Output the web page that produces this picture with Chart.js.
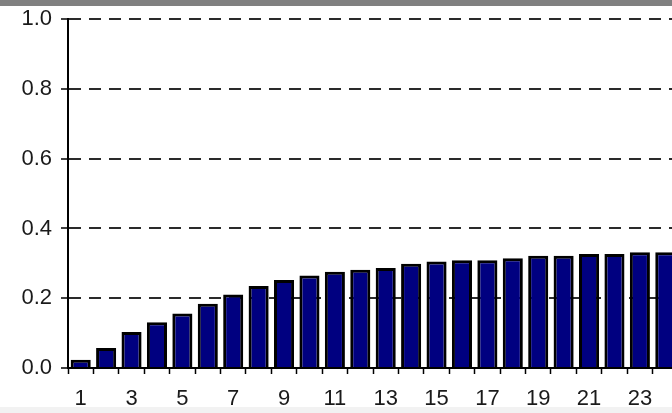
<!DOCTYPE html>
<html><head><meta charset="utf-8">
<script src="https://cdn.jsdelivr.net/npm/chart.js@4"></script>
<style>
html,body{margin:0;padding:0;width:672px;height:413px;overflow:hidden;background:#fff;}
#top{position:absolute;left:0;top:0;width:672px;height:6px;background:#808080;z-index:2;}
#bot{position:absolute;left:0;top:407px;width:672px;height:6px;background:#f2f2f2;z-index:2;}
#wrap{position:absolute;left:0;top:-3px;width:680px;height:410px;z-index:1;}
</style></head><body>
<div id="top"></div>
<div id="wrap"><canvas id="c" width="680" height="410"></canvas></div>
<div id="bot"></div>
<script>
const categories = ['1','2','3','4','5','6','7','8','9','10','11','12','13','14','15','16','17','18','19','20','21','22','23','24'];
const values = [0.024,0.057,0.103,0.131,0.156,0.184,0.211,0.235,0.252,0.265,0.276,0.282,0.287,0.299,0.305,0.309,0.309,0.315,0.322,0.322,0.327,0.327,0.332,0.332];
const xTickLabels = ['1','','3','','5','','7','','9','','11','','13','','15','','17','','19','','21','','23',''];
const yTickValues = [0.0,0.2,0.4,0.6,0.8,1.0];

const font = {family:'"Liberation Sans", Arial, sans-serif', size:22};
new Chart(document.getElementById('c'), {
  type:'bar',
  data:{labels:categories, datasets:[{data:values, backgroundColor:'#000080', borderColor:'#000', borderWidth:3, barPercentage:0.79, categoryPercentage:1}]},
  options:{
    responsive:false, animation:false,
    layout:{padding:{top:4,right:2,left:0,bottom:0}},
    plugins:{legend:{display:false}, tooltip:{enabled:false}},
    scales:{
      x:{
        afterFit:s=>{s.height=39;},
        grid:{drawOnChartArea:false, drawTicks:true, tickLength:6, color:'#000', tickColor:'#000', tickWidth:1.5, offset:true},
        border:{display:true, color:'#000', width:2},
        ticks:{autoSkip:false, maxRotation:0, color:'#1a1a1a', font, padding:12, callback:(v,i)=>xTickLabels[i]}
      },
      y:{
        min:0, max:1,
        afterFit:s=>{s.width=68;},
        afterBuildTicks:s=>{s.ticks=yTickValues.map(v=>({value:v}));},
        grid:{color:'#2a2a2a', lineWidth:2, tickLength:7, tickColor:'#000', tickWidth:1.5, tickBorderDash:[]},
        border:{display:true, color:'#000', width:2, dash:[12,8]},
        ticks:{color:'#1a1a1a', font, padding:9, callback:v=>Number(v).toFixed(1)}
      }
    }
  }
});
</script>
</body></html>
